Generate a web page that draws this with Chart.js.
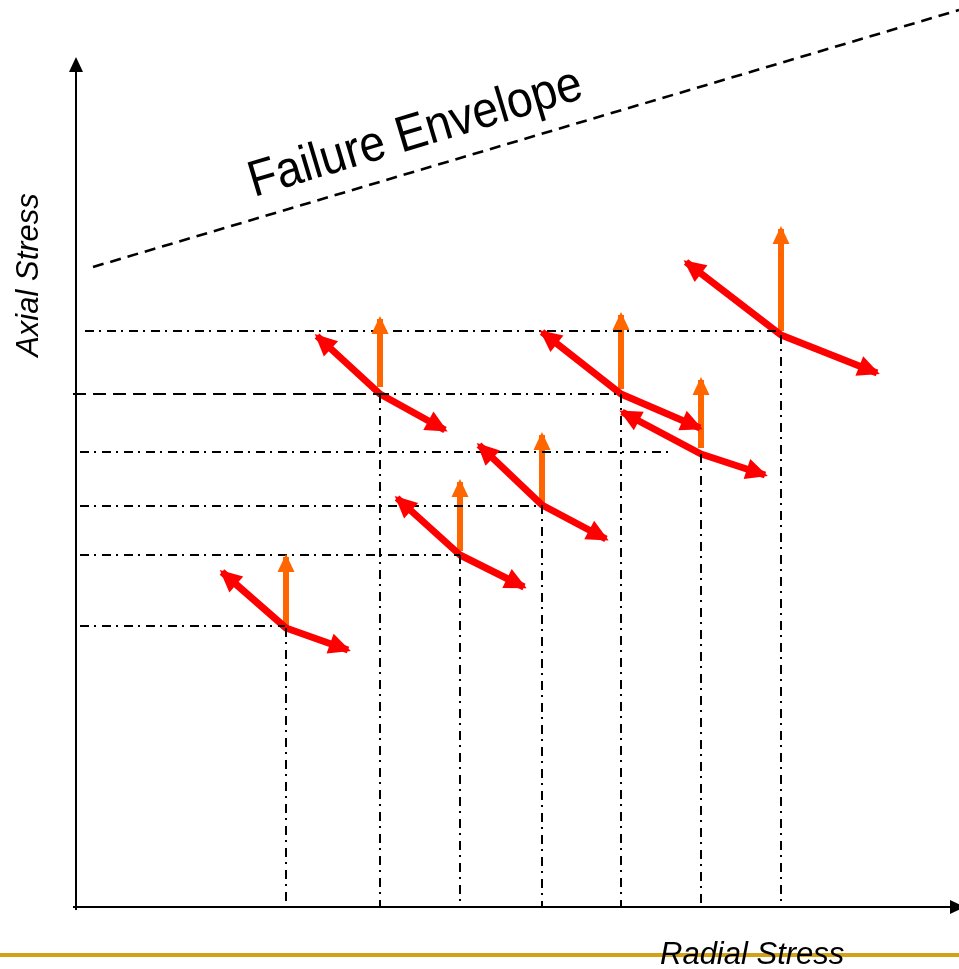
<!DOCTYPE html>
<html>
<head>
<meta charset="utf-8">
<script src="https://cdn.jsdelivr.net/npm/chart.js@4.4.1/dist/chart.umd.min.js"></script>
<style>
  html, body { margin: 0; padding: 0; background: #fff; }
  #wrap { width: 959px; height: 969px; }
</style>
</head>
<body>
<div id="wrap"><canvas id="myChart"></canvas></div>
<script>
// stress states (arbitrary units), one per loading step
const nodeX = [21.0, 30.4, 38.4, 46.6, 54.5, 62.5, 70.5];
const nodeY = [27.9, 51.3, 35.2, 40.2, 51.3, 45.3, 57.2];
// red arrows: left tip / right tip
const leftX = [14.6, 24.1, 32.1, 40.3, 46.6, 54.6, 61.0];
const leftY = [33.5, 57.1, 40.9, 46.2, 57.5, 49.5, 64.5];
const rightX = [27.2, 36.9, 44.8, 53.0, 62.4, 68.9, 80.1];
const rightY = [25.7, 47.7, 32.0, 36.8, 47.9, 43.2, 53.4];
// orange arrows: base and tip of axial increment
const upBase = [28.1, 52.0, 35.6, 40.4, 51.8, 45.9, 57.6];
const upTip = [35.0, 58.8, 42.5, 47.2, 59.2, 52.7, 67.8];
// horizontal guide lines
const guideY = [57.6, 45.5, 40.1, 35.2, 28.1];
const guideStart = [0.9, 0.4, 0.4, 0.4, 0.4];
const guideEnd = [70.4, 59.4, 46.5, 38.4, 20.9];
// failure envelope
const envX = [1.7, 88.3];
const envY = [64.0, 89.7];

const dashDot = [9, 5, 2, 6];
const datasets = [];

// envelope
datasets.push({
    data: [{x: envX[0], y: envY[0]}, {x: envX[1], y: envY[1]}],
    borderColor: '#000', borderWidth: 2.6, borderDash: [11, 7]
});

// axes
datasets.push({ data: [{x: 0, y: -0.3}, {x: 0, y: 84.7}], borderColor: '#000', borderWidth: 2, head: [15, 14] });
datasets.push({ data: [{x: -0.3, y: 0}, {x: 88.6, y: 0}], borderColor: '#000', borderWidth: 2, head: [15, 14] });

// horizontal guides
guideY.forEach((y, i) => {
    datasets.push({
        data: [{x: guideStart[i], y: y}, {x: guideEnd[i], y: y}],
        borderColor: '#000', borderWidth: 2, borderDash: dashDot
    });
});
// the guide through B and E: dashed to B, dash-dot on to E
datasets.push({
    data: [{x: -0.3, y: nodeY[1]}, {x: nodeX[1], y: nodeY[1]}],
    borderColor: '#000', borderWidth: 2, borderDash: [13, 7]
});
datasets.push({
    data: [{x: nodeX[1], y: nodeY[1]}, {x: nodeX[4], y: nodeY[4]}],
    borderColor: '#000', borderWidth: 2, borderDash: dashDot
});

// vertical guides
nodeX.forEach((x, i) => {
    datasets.push({
        data: [{x: x, y: nodeY[i]}, {x: x, y: 0}],
        borderColor: '#000', borderWidth: 2, borderDash: dashDot
    });
});

// red arrows
nodeX.forEach((x, i) => {
    datasets.push({
        data: [{x: leftX[i], y: leftY[i]}, {x: x, y: nodeY[i]}, {x: rightX[i], y: rightY[i]}],
        borderColor: '#ff0000', borderWidth: 7, borderJoinStyle: 'round',
        head: [22, 21], headStart: true
    });
});

// orange arrows
nodeX.forEach((x, i) => {
    datasets.push({
        data: [{x: x, y: upBase[i]}, {x: x, y: upTip[i]}],
        borderColor: '#ff6600', borderWidth: 6, head: [18, 17]
    });
});

datasets.forEach(ds => {
    ds.showLine = true;
    ds.pointRadius = 0;
    ds.pointHoverRadius = 0;
    ds.fill = false;
    ds.clip = false;
    ds.tension = 0;
    if (!ds.borderCapStyle) ds.borderCapStyle = 'butt';
});

function drawHead(ctx, a, b, L, W, color) {
    const ang = Math.atan2(b.y - a.y, b.x - a.x);
    ctx.save();
    ctx.translate(b.x, b.y);
    ctx.rotate(ang);
    ctx.beginPath();
    ctx.moveTo(3, 0);
    ctx.lineTo(3 - L, -W / 2);
    ctx.lineTo(3 - L, W / 2);
    ctx.closePath();
    ctx.fillStyle = color;
    ctx.fill();
    ctx.restore();
}

const arrowHeads = {
    id: 'arrowHeads',
    afterDatasetsDraw(chart) {
        const ctx = chart.ctx;
        chart.data.datasets.forEach((ds, i) => {
            if (!ds.head) return;
            const pts = chart.getDatasetMeta(i).data;
            const n = pts.length;
            drawHead(ctx, pts[n - 2], pts[n - 1], ds.head[0], ds.head[1], ds.borderColor);
            if (ds.headStart) drawHead(ctx, pts[1], pts[0], ds.head[0], ds.head[1], ds.borderColor);
        });
    },
    afterDraw(chart) {
        const ctx = chart.ctx;
        ctx.save();
        // gold rule at the bottom
        ctx.strokeStyle = '#d4a017';
        ctx.lineWidth = 4;
        ctx.beginPath();
        ctx.moveTo(0, 955);
        ctx.lineTo(959, 955);
        ctx.stroke();

        ctx.fillStyle = '#000';
        ctx.textBaseline = 'alphabetic';
        ctx.font = 'italic 31px "Liberation Sans", Arial, sans-serif';
        ctx.textAlign = 'left';
        ctx.fillText('Radial Stress', 660, 964);

        ctx.save();
        ctx.translate(38, 275);
        ctx.rotate(-Math.PI / 2);
        ctx.textAlign = 'center';
        ctx.fillText('Axial Stress', 0, 0);
        ctx.restore();

        ctx.save();
        ctx.translate(254, 197);
        ctx.rotate(-16.7 * Math.PI / 180);
        ctx.scale(0.96, 1.06);
        ctx.font = '48px "Liberation Sans", Arial, sans-serif';
        ctx.textAlign = 'left';
        ctx.fillText('Failure Envelope', 0, 0);
        ctx.restore();
        ctx.restore();
    }
};

const ctx = document.getElementById('myChart').getContext('2d');
new Chart(ctx, {
    type: 'scatter',
    data: { datasets: datasets },
    options: {
        responsive: true,
        maintainAspectRatio: false,
        animation: false,
        layout: { padding: { left: 76, right: 3, top: 0, bottom: 62 } },
        plugins: { legend: { display: false }, tooltip: { enabled: false } },
        scales: {
            x: { type: 'linear', min: 0, max: 88, display: false },
            y: { type: 'linear', min: 0, max: 90.7, display: false }
        }
    },
    plugins: [arrowHeads]
});
</script>
</body>
</html>
